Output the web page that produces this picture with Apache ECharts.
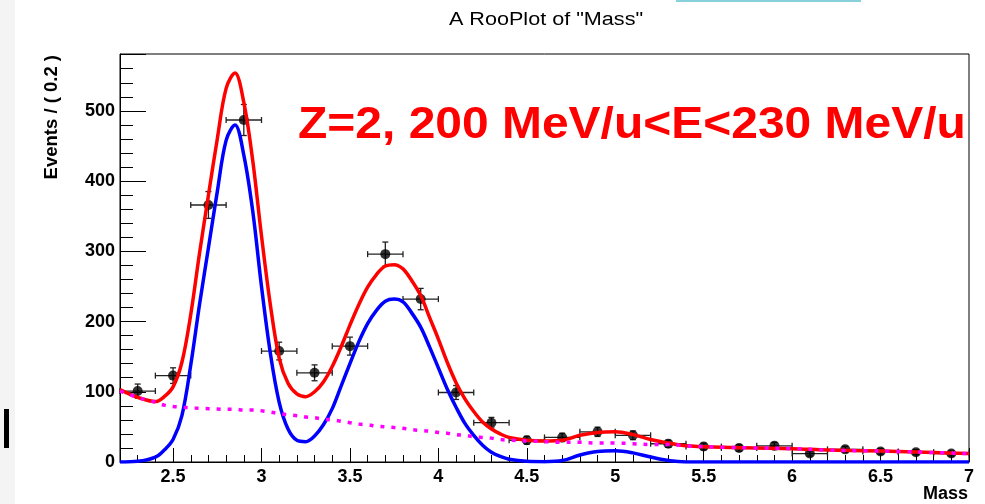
<!DOCTYPE html>
<html>
<head>
<meta charset="utf-8">
<script src="https://cdn.jsdelivr.net/npm/echarts@6/dist/echarts.min.js"></script>
<style>
  html, body { margin: 0; padding: 0; background: #fff; }
  #chart { width: 985px; height: 504px; }
</style>
</head>
<body>
<div id="chart"></div>
<script>
// binned data (bin width 0.2)
const binWidth = 0.2
const binCenters = [2.3, 2.5, 2.7, 2.9, 3.1, 3.3, 3.5, 3.7, 3.9, 4.1, 4.3, 4.5,
  4.7, 4.9, 5.1, 5.3, 5.5, 5.7, 5.9, 6.1, 6.3, 6.5, 6.7, 6.9]
const counts = [101, 123, 366, 487, 158, 127, 165, 296, 232, 99, 56, 31,
  35, 43, 38, 26, 22, 20, 23, 12, 18, 15, 14, 12]
const countErr = [10, 11.1, 19.1, 22.1, 12.6, 11.3, 12.8, 17.2, 15.2, 9.9, 7.5, 5.6,
  5.9, 6.6, 6.2, 5.1, 4.7, 4.5, 4.8, 3.5, 4.2, 3.9, 3.7, 3.5]

// fitted curves
const curveX = [2.2, 2.3, 2.4, 2.45, 2.5, 2.55, 2.6, 2.65, 2.7, 2.75, 2.8, 2.85, 2.9, 2.95,
  3.0, 3.05, 3.1, 3.15, 3.2, 3.25, 3.3, 3.35, 3.4, 3.45, 3.5, 3.55, 3.6, 3.65, 3.7, 3.75,
  3.8, 3.85, 3.9, 3.95, 4.0, 4.05, 4.1, 4.15, 4.2, 4.25, 4.3, 4.35, 4.4, 4.5, 4.6, 4.7,
  4.8, 4.9, 5.0, 5.1, 5.2, 5.3, 5.4, 5.6, 5.8, 6.0, 6.2, 6.4, 6.6, 6.8, 7.0]
const totalY = [103, 92, 86, 93, 107, 142, 210, 298, 380, 460, 532, 554, 512, 430,
  322, 224, 148, 112, 97, 93, 100, 114, 136, 164, 195, 224, 249, 267, 279, 281,
  275, 258, 237, 206, 175, 142, 113, 90, 72, 57, 47, 40, 35, 31, 30, 31,
  38, 42, 43, 39, 32, 27, 23, 21, 20, 19, 17, 16, 15, 13.5, 12]
const signalY = [0, 1, 7, 17, 32, 66, 138, 225, 305, 385, 458, 480, 437, 358,
  250, 155, 85, 47, 31, 29, 37, 53, 76, 108, 140, 171, 197, 216, 229, 232,
  228, 212, 192, 164, 134, 104, 78, 55, 38, 24, 14, 8, 4, 1, 0.5, 2,
  10, 15, 16, 13, 7, 2, 0, 0, 0, 0, 0, 0, 0, 0, 0]
const bkgY = [101, 92, 85, 81, 79, 78, 77, 76.5, 76, 75.5, 75, 75, 74, 74,
  73, 71, 69, 67, 66, 64, 63, 61, 60, 58, 56, 54, 53, 51, 50, 49,
  48, 46, 45, 44, 42, 41, 39, 38, 36, 35, 34, 32, 31, 30, 29, 28,
  28, 27, 27, 26, 25, 25, 23, 21, 20, 19, 17, 16, 15, 13.5, 12]

// x axis ticks
const xMajorTicks = [2.5, 3, 3.5, 4, 4.5, 5, 5.5, 6, 6.5, 7]
const xMinorTicks = [2.3, 2.4, 2.6, 2.7, 2.8, 2.9, 3.1, 3.2, 3.3, 3.4, 3.6, 3.7, 3.8, 3.9,
  4.1, 4.2, 4.3, 4.4, 4.6, 4.7, 4.8, 4.9, 5.1, 5.2, 5.3, 5.4, 5.6, 5.7, 5.8, 5.9,
  6.1, 6.2, 6.3, 6.4, 6.6, 6.7, 6.8, 6.9]

const labelFont = 'Liberation Sans, Arial, sans-serif'

const chart = echarts.init(document.getElementById('chart'))

const pairs = (ys) => curveX.map((x, i) => [x, ys[i]])

chart.setOption({
  animation: false,
  backgroundColor: '#fff',
  grid: {
    left: 120,
    right: 16,
    top: 54,
    bottom: 42,
    show: true,
    borderColor: '#000',
    borderWidth: 1,
    backgroundColor: '#fff'
  },
  xAxis: [
    {
      type: 'value',
      min: 2.2,
      max: 7,
      axisLine: { show: true, lineStyle: { color: '#000', width: 1 } },
      axisTick: { show: true, inside: true, length: 14, customValues: xMajorTicks, lineStyle: { color: '#000' } },
      minorTick: { show: false },
      splitLine: { show: false },
      axisLabel: {
        margin: 6,
        color: '#000',
        fontFamily: labelFont,
        fontWeight: 'bold',
        fontSize: 18,
        customValues: xMajorTicks,
        formatter: (v) => String(v)
      }
    },
    {
      // minor ticks only
      type: 'value',
      position: 'bottom',
      min: 2.2,
      max: 7,
      axisLine: { show: false },
      axisTick: { show: true, inside: true, length: 7, customValues: xMinorTicks, lineStyle: { color: '#000' } },
      axisLabel: { show: false },
      splitLine: { show: false }
    }
  ],
  yAxis: {
    type: 'value',
    min: 0,
    max: 581,
    interval: 100,
    axisLine: { show: true, lineStyle: { color: '#000', width: 1 } },
    axisTick: { show: true, inside: true, length: 26, lineStyle: { color: '#000' } },
    minorTick: { show: true, splitNumber: 5, length: 13, lineStyle: { color: '#000' } },
    splitLine: { show: false },
    axisLabel: {
      margin: 5,
      color: '#000',
      fontFamily: labelFont,
      fontWeight: 'bold',
      fontSize: 18,
      formatter: (v) => (v % 100 === 0 ? String(v) : '')
    }
  },
  series: [
    {
      name: 'total',
      type: 'line',
      data: pairs(totalY),
      smooth: 0.35,
      symbol: 'none',
      lineStyle: { color: '#ff0000', width: 3.5 }
    },
    {
      name: 'signal',
      type: 'line',
      data: pairs(signalY),
      smooth: 0.35,
      symbol: 'none',
      lineStyle: { color: '#0000ff', width: 3.5 }
    },
    {
      name: 'background',
      type: 'line',
      data: pairs(bkgY),
      smooth: 0.35,
      symbol: 'none',
      lineStyle: { color: '#ff00ff', width: 3.5, type: [4, 7] }
    },
    {
      name: 'errors',
      type: 'custom',
      data: binCenters.map((x, i) => [x, counts[i], countErr[i]]),
      renderItem: function (params, api) {
        const x = api.value(0)
        const y = api.value(1)
        const e = api.value(2)
        const l = api.coord([x - binWidth / 2, y])
        const r = api.coord([x + binWidth / 2, y])
        const t = api.coord([x, y + e])
        const b = api.coord([x, y - e])
        const cap = 3
        const style = { stroke: '#222', lineWidth: 1.3 }
        return {
          type: 'group',
          children: [
            { type: 'line', shape: { x1: l[0], y1: l[1], x2: r[0], y2: r[1] }, style },
            { type: 'line', shape: { x1: l[0], y1: l[1] - cap, x2: l[0], y2: l[1] + cap }, style },
            { type: 'line', shape: { x1: r[0], y1: r[1] - cap, x2: r[0], y2: r[1] + cap }, style },
            { type: 'line', shape: { x1: t[0], y1: t[1], x2: b[0], y2: b[1] }, style },
            { type: 'line', shape: { x1: t[0] - cap, y1: t[1], x2: t[0] + cap, y2: t[1] }, style },
            { type: 'line', shape: { x1: b[0] - cap, y1: b[1], x2: b[0] + cap, y2: b[1] }, style }
          ]
        }
      }
    },
    {
      name: 'data',
      type: 'scatter',
      data: binCenters.map((x, i) => [x, counts[i]]),
      symbol: 'circle',
      symbolSize: 10,
      itemStyle: { color: '#000' }
    }
  ],
  graphic: [
    // screenshot edges
    { type: 'rect', shape: { x: 0, y: 0, width: 15, height: 504 }, style: { fill: '#f4f4f4' } },
    { type: 'rect', shape: { x: 4, y: 409, width: 5, height: 39 }, style: { fill: '#000' } },
    { type: 'rect', shape: { x: 676, y: 0, width: 185, height: 2 }, style: { fill: '#87d1dc' } },
    {
      type: 'text',
      x: 546,
      y: 20,
      scaleX: 1.2,
      style: {
        text: 'A RooPlot of "Mass"',
        align: 'center',
        verticalAlign: 'middle',
        fontFamily: labelFont,
        fontSize: 18,
        fill: '#000'
      }
    },
    {
      type: 'text',
      x: 52,
      y: 55,
      rotation: Math.PI / 2,
      style: {
        text: 'Events / ( 0.2 )',
        align: 'right',
        verticalAlign: 'middle',
        fontFamily: labelFont,
        fontWeight: 'bold',
        fontSize: 18.5,
        fill: '#000'
      }
    },
    {
      type: 'text',
      x: 968,
      y: 494,
      style: {
        text: 'Mass',
        align: 'right',
        verticalAlign: 'middle',
        fontFamily: labelFont,
        fontWeight: 'bold',
        fontSize: 18,
        fill: '#000'
      }
    },
    {
      type: 'text',
      x: 298,
      y: 126,
      scaleX: 1.09,
      style: {
        text: 'Z=2, 200 MeV/u<E<230 MeV/u',
        align: 'left',
        verticalAlign: 'middle',
        fontFamily: labelFont,
        fontWeight: 'bold',
        fontSize: 44,
        fill: '#ff0000'
      }
    }
  ]
})
</script>
</body>
</html>
